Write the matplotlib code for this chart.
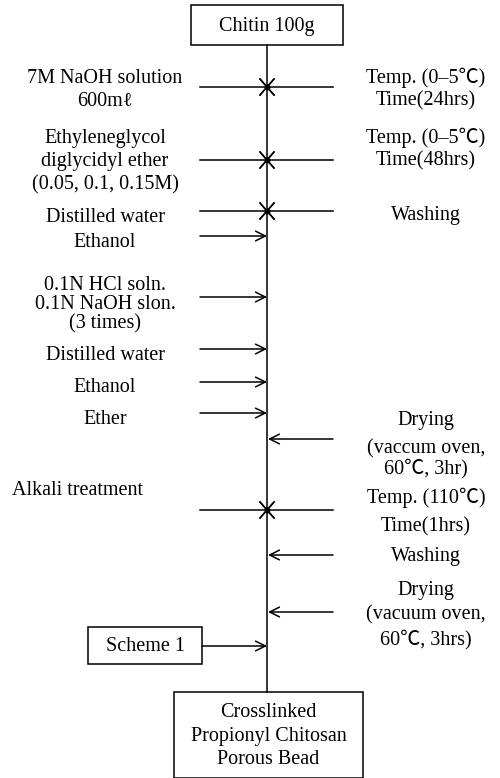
import matplotlib.pyplot as plt

plt.rcParams['font.family'] = ['Liberation Serif', 'Noto Sans CJK KR', 'DejaVu Serif']

# main line
spine_x = 267
top_box = ("Chitin 100g", 191, 5, 343, 45)
bottom_box = ("Crosslinked\nPropionyl Chitosan\nPorous Bead", 174, 692, 363, 778)
scheme_box = ("Scheme 1", 88, 627, 202, 664)

# left side inputs: (y of line, kind)   kind: 'x' cross or '>' arrow
left_lines = [87, 160, 211, 236, 297, 349, 382, 413, 510, 646]
left_kinds = ['x', 'x', 'x', '>', '>', '>', '>', '>', 'x', '>']
# right side: lines from right toward spine
right_lines = [87, 160, 211, 439, 510, 555, 612]
right_kinds = ['x', 'x', 'x', '<', 'x', '<', '<']

left_texts = [
    ("7M NaOH solution", 76), ("600mℓ", 99),
    ("Ethyleneglycol", 136), ("diglycidyl ether", 159), ("(0.05, 0.1, 0.15M)", 183),
    ("Distilled water", 215), ("Ethanol", 240),
    ("0.1N HCl soln.", 283), ("0.1N NaOH slon.", 302), ("(3 times)", 322),
    ("Distilled water", 353), ("Ethanol", 385), ("Ether", 417),
]
right_texts = [
    ("Temp. (0–5℃)", 76), ("Time(24hrs)", 99),
    ("Temp. (0–5℃)", 136), ("Time(48hrs)", 159),
    ("Washing", 213),
    ("Drying", 418), ("(vaccum oven,", 447), ("60℃, 3hr)", 467),
    ("Temp. (110℃)", 496), ("Time(1hrs)", 525),
    ("Washing", 555),
    ("Drying", 588), ("(vacuum oven,", 613), ("60℃, 3hrs)", 638),
]

fig = plt.figure(figsize=(5, 7.78), dpi=100)
ax = fig.add_axes([0, 0, 1, 1])
ax.set_xlim(0, 500)
ax.set_ylim(778, 0)
ax.axis('off')

fs = 14.5
lw = 1.1
dy = 2  # nudge text down a little

# vertical spine
ax.plot([spine_x, spine_x], [top_box[4], bottom_box[2]], color='k', lw=lw)

for label, x0, y0, x1, y1 in [top_box, bottom_box, scheme_box]:
    ax.add_patch(plt.Rectangle((x0, y0), x1 - x0, y1 - y0, fill=False, ec='k', lw=lw))
    ax.text((x0 + x1) / 2, (y0 + y1) / 2 + (1 if '\n' not in label else 1), label,
            ha='center', va='center', fontsize=fs, linespacing=1.3)

def cross(y):
    ax.plot([spine_x - 7, spine_x + 7], [y - 8, y + 8], color='k', lw=lw)
    ax.plot([spine_x - 7, spine_x + 7], [y + 8, y - 8], color='k', lw=lw)
    ax.plot(spine_x, y, 'o', color='k', ms=3)

arrow = dict(arrowstyle='->,head_length=0.7,head_width=0.35', lw=lw, color='k',
             shrinkA=0, shrinkB=0)

for y, k in zip(left_lines, left_kinds):
    x0 = 202 if y == 646 else 200
    if k == 'x':
        ax.plot([x0, spine_x], [y, y], color='k', lw=lw)
        cross(y)
    else:
        ax.annotate('', xy=(spine_x, y), xytext=(x0, y), arrowprops=arrow)

for y, k in zip(right_lines, right_kinds):
    if k == 'x':
        ax.plot([spine_x, 333], [y, y], color='k', lw=lw)
        cross(y)
    else:
        ax.annotate('', xy=(spine_x + 1, y), xytext=(333, y), arrowprops=arrow)

for t, y in left_texts:
    ax.text(105, y + dy, t, ha='center', va='center', fontsize=fs)
ax.text(12, 488 + dy, "Alkali treatment", ha='left', va='center', fontsize=fs)

for t, y in right_texts:
    ax.text(426, y + dy, t, ha='center', va='center', fontsize=fs)

fig.savefig('out.png', dpi=100)
